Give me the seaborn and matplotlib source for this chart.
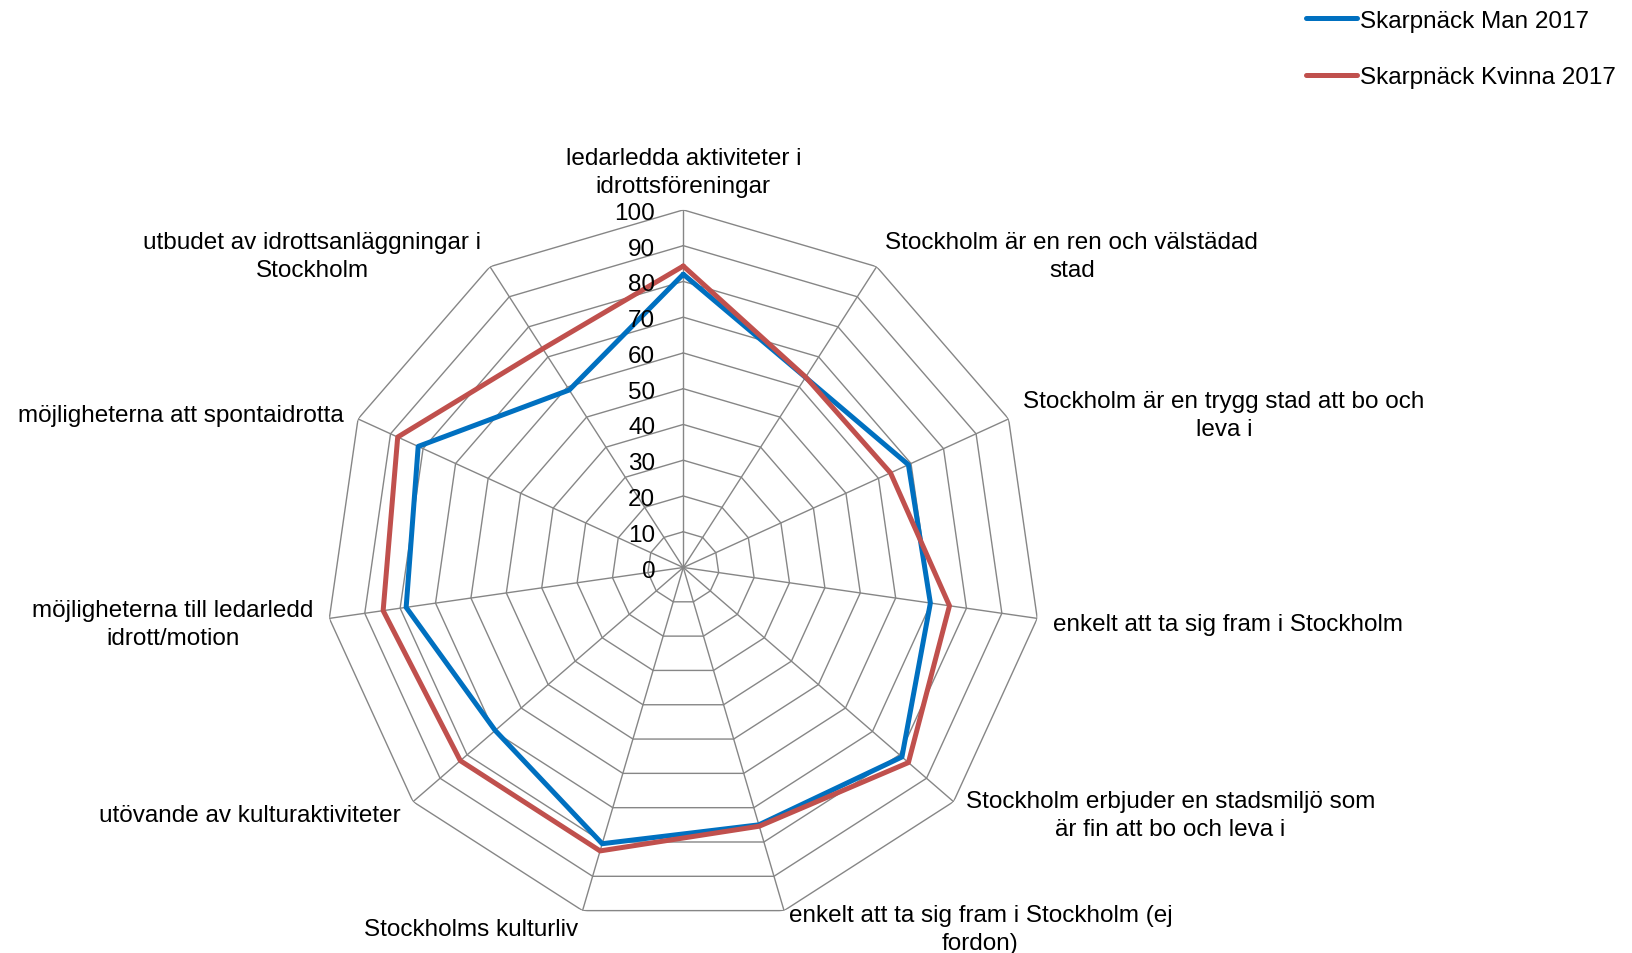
import numpy as np
import pandas as pd
import matplotlib
matplotlib.use('Agg')
import matplotlib.pyplot as plt
from matplotlib.transforms import offset_copy
import seaborn as sns

sns.set_style('white')
plt.rcParams['font.family'] = ['Liberation Sans', 'DejaVu Sans']
plt.rcParams['text.color'] = 'black'

# kategorier, medurs från toppen
kategorier = [
    "ledarledda aktiviteter i\nidrottsföreningar",
    "Stockholm är en ren och välstädad\nstad",
    "Stockholm är en trygg stad att bo och\nleva i",
    "enkelt att ta sig fram i Stockholm",
    "Stockholm erbjuder en stadsmiljö som\när fin att bo och leva i",
    "enkelt att ta sig fram i Stockholm (ej\nfordon)",
    "Stockholms kulturliv",
    "utövande av kulturaktiviteter",
    "möjligheterna till ledarledd\nidrott/motion",
    "möjligheterna att spontaidrotta",
    "utbudet av idrottsanläggningar i\nStockholm",
]
man_2017 = [82.0, 63.2, 69.2, 69.8, 80.9, 75.0, 80.5, 69.6, 78.3, 81.5, 59.0]
kvinna_2017 = [84.3, 63.3, 63.7, 75.2, 83.3, 75.4, 82.6, 82.5, 84.8, 87.8, 72.7]
serier = ["Skarpnäck Man 2017", "Skarpnäck Kvinna 2017"]
farger = ["#0070C0", "#C0504D"]
skala = list(range(0, 101, 10))

n = len(kategorier)
vinklar = np.linspace(0, 2 * np.pi, n, endpoint=False)

# long format, första punkten upprepad (på 2*pi) för att stänga polygonen
rows = []
for namn, vals in zip(serier, [man_2017, kvinna_2017]):
    for i in range(n):
        rows.append({'theta': vinklar[i], 'varde': vals[i], 'serie': namn})
    rows.append({'theta': 2 * np.pi, 'varde': vals[0], 'serie': namn})
df = pd.DataFrame(rows)

FS = 17.5
W, H = 1632, 954
fig = plt.figure(figsize=(W / 100, H / 100), dpi=100)
cx, cy, R = 683.3, 568.5, 357.6
ax = fig.add_axes([(cx - R) / W, (H - cy - R) / H, 2 * R / W, 2 * R / H], projection='polar')
ax.set_theta_zero_location('N')
ax.set_theta_direction(-1)
ax.set_ylim(0, 100)
ax.grid(False)
ax.set_xticks([])
ax.set_yticks([])
ax.spines['polar'].set_visible(False)

grid_col = '#868686'
t_closed = np.append(vinklar, 2 * np.pi)
for lev in skala[1:]:
    ax.plot(t_closed, [lev] * (n + 1), color=grid_col, lw=1.0, zorder=1)
for t in vinklar:
    ax.plot([t, t], [0, 100], color=grid_col, lw=1.0, zorder=1)

sns.lineplot(data=df, x='theta', y='varde', hue='serie', hue_order=serier,
             palette=farger, sort=False, estimator=None,
             lw=3.6, ax=ax, legend=True, zorder=3)
ax.set_xlabel('')
ax.set_ylabel('')

# skalans etiketter längs den lodräta axeln
tr = offset_copy(ax.transData, fig=fig, x=-28, y=-3, units='dots')
for v in skala:
    ax.text(0, v, str(v), transform=tr, ha='right', va='center', fontsize=FS,
            color='black', zorder=5)

# kategorietiketter
tr_lab = offset_copy(ax.transData, fig=fig, x=0, y=-3, units='dots')
for t, lab in zip(vinklar, kategorier):
    deg = np.degrees(t)
    if deg < 1:
        ha, va = 'center', 'bottom'
    elif deg < 180:
        ha, va = 'left', 'center'
    else:
        ha, va = 'right', 'center'
    ax.text(t, 104.5, lab, transform=tr_lab, ha=ha, va=va, multialignment='center',
            fontsize=FS, linespacing=1.35, color='black', clip_on=False)

handles, labels = ax.get_legend_handles_labels()
ax.get_legend().remove()
fig.legend(handles, labels, loc='upper left', bbox_to_anchor=(0.8002, 0.989),
           frameon=False, fontsize=FS, handlelength=2.1, handletextpad=0.12,
           labelspacing=1.42, borderpad=0, borderaxespad=0, labelcolor='black')

fig.savefig('out.png', dpi=100, facecolor='white')
